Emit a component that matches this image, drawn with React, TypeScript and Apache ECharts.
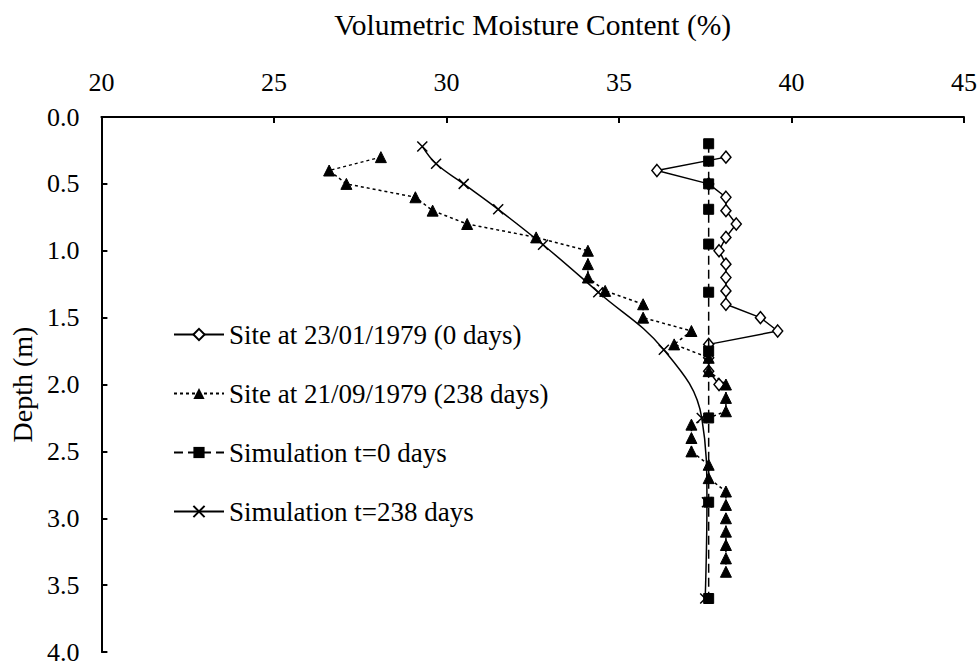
import React, { useEffect, useRef } from "react";
import * as echarts from "echarts";

const xTicks = [20, 25, 30, 35, 40, 45];
const yTicks = [0, 0.5, 1, 1.5, 2, 2.5, 3, 3.5, 4];

const seriesNames = [
  "Site at 23/01/1979 (0 days)",
  "Site at 21/09/1979 (238 days)",
  "Simulation t=0 days",
  "Simulation t=238 days",
];

const site0Depth = [0.3, 0.4, 0.5, 0.6, 0.7, 0.8, 0.9, 1.0, 1.1, 1.2, 1.3, 1.4, 1.5, 1.6, 1.7, 1.8, 1.9, 2.0];
const site0Moist = [38.1, 36.1, 37.6, 38.1, 38.1, 38.4, 38.1, 37.9, 38.1, 38.1, 38.1, 38.1, 39.1, 39.6, 37.6, 37.6, 37.6, 37.9];

const site238Depth = [0.3, 0.4, 0.5, 0.6, 0.7, 0.8, 0.9, 1.0, 1.1, 1.2, 1.3, 1.4, 1.5, 1.6, 1.7, 1.8, 1.9, 2.0, 2.1, 2.2, 2.3, 2.4, 2.5, 2.6, 2.7, 2.8, 2.9, 3.0, 3.1, 3.2, 3.3, 3.4];
const site238Moist = [28.1, 26.6, 27.1, 29.1, 29.6, 30.6, 32.6, 34.1, 34.1, 34.1, 34.6, 35.7, 35.7, 37.1, 36.6, 37.6, 37.6, 38.1, 38.1, 38.1, 37.1, 37.1, 37.1, 37.6, 37.6, 38.1, 38.1, 38.1, 38.1, 38.1, 38.1, 38.1];

const sim0Depth = [0.2, 0.33, 0.5, 0.69, 0.95, 1.31, 1.75, 2.25, 2.88, 3.6];
const sim0Moist = [37.6, 37.6, 37.6, 37.6, 37.6, 37.6, 37.6, 37.6, 37.6, 37.6];

const sim238Depth = [0.22, 0.35, 0.5, 0.69, 0.955, 1.31, 1.74, 2.25, 2.88, 3.6];
const sim238Moist = [29.3, 29.7, 30.5, 31.5, 32.8, 34.4, 36.3, 37.4, 37.55, 37.5];

const pairs = (xs: number[], ys: number[]) => xs.map((x, i) => [x, ys[i]]);

const FONT = "'Liberation Serif', 'Times New Roman', serif";

export default function App() {
  const ref = useRef<HTMLDivElement>(null);
  useEffect(() => {
    if (!ref.current) return;
    const chart = echarts.init(ref.current, null, { renderer: "svg" });
    const crossPath = "path://M0,0L10,10M10,0L0,10";
    chart.setOption({
      animation: false,
      backgroundColor: "#fff",
      textStyle: { fontFamily: FONT, color: "#000" },
      grid: { left: 100, right: 15, top: 117, bottom: 12 },
      legend: {
        orient: "vertical",
        left: 168,
        top: 316,
        itemWidth: 50,
        itemHeight: 14,
        itemGap: 32,
        textStyle: { fontFamily: FONT, fontSize: 27, color: "#000" },
        data: seriesNames,
      },
      xAxis: {
        type: "value",
        position: "top",
        min: 20,
        max: 45,
        interval: 5,
        name: "Volumetric Moisture Content (%)",
        nameLocation: "middle",
        nameGap: 77,
        nameTextStyle: { fontFamily: FONT, fontSize: 29.5, color: "#000" },
        axisLine: { show: true, lineStyle: { color: "#000", width: 2 } },
        axisTick: { show: true, inside: true, length: 6, lineStyle: { color: "#000", width: 2 } },
        axisLabel: { fontFamily: FONT, fontSize: 26, color: "#000", margin: 22 },
        splitLine: { show: false },
        data: xTicks,
      },
      yAxis: {
        type: "value",
        inverse: true,
        min: 0,
        max: 4,
        interval: 0.5,
        name: "Depth (m)",
        nameLocation: "middle",
        nameGap: 62,
        nameTextStyle: { fontFamily: FONT, fontSize: 28, color: "#000" },
        axisLine: { show: true, lineStyle: { color: "#000", width: 2 } },
        axisTick: { show: true, inside: true, length: 6, lineStyle: { color: "#000", width: 2 } },
        axisLabel: {
          fontFamily: FONT,
          fontSize: 26,
          color: "#000",
          margin: 22,
          formatter: (v: number) => (yTicks.includes(v) ? v.toFixed(1) : ""),
        },
        splitLine: { show: false },
      },
      series: [
        {
          name: seriesNames[0],
          type: "line",
          data: pairs(site0Moist, site0Depth),
          symbol: "diamond",
          symbolSize: [10, 12],
          lineStyle: { color: "#000", width: 1.5, type: "solid" },
          itemStyle: { color: "#fff", borderColor: "#000", borderWidth: 1.5 },
          z: 2,
        },
        {
          name: seriesNames[1],
          type: "line",
          data: pairs(site238Moist, site238Depth),
          symbol: "triangle",
          symbolSize: 11,
          lineStyle: { color: "#000", width: 1.5, type: [3, 3] },
          itemStyle: { color: "#000", borderColor: "#000" },
          z: 3,
        },
        {
          name: seriesNames[2],
          type: "line",
          data: pairs(sim0Moist, sim0Depth),
          symbol: "rect",
          symbolSize: 10,
          lineStyle: { color: "#000", width: 1.5, type: [9, 5] },
          itemStyle: { color: "#000", borderColor: "#000" },
          z: 4,
        },
        {
          name: seriesNames[3],
          type: "line",
          data: pairs(sim238Moist, sim238Depth),
          symbol: crossPath,
          symbolSize: 10,
          smooth: 0.4,
          lineStyle: { color: "#000", width: 1.5, type: "solid" },
          itemStyle: { color: "#000", borderColor: "#000", borderWidth: 1.5 },
          z: 5,
        },
      ],
    });
    return () => chart.dispose();
  }, []);
  return (
    <div
      ref={ref}
      style={{ position: "fixed", left: 0, top: 0, width: 980, height: 665, background: "#fff" }}
    />
  );
}
